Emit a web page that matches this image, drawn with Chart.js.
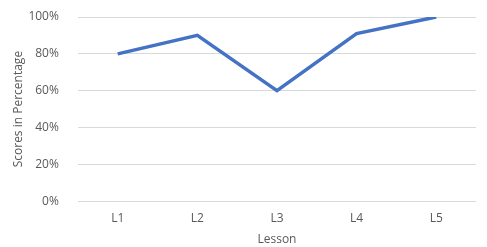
<!DOCTYPE html>
<html>
<head>
<meta charset="utf-8">
<script src="https://cdn.jsdelivr.net/npm/chart.js@4"></script>
<style>
  html, body { margin: 0; padding: 0; background: #fff; }
  #wrap { width: 487px; height: 247px; }
</style>
</head>
<body>
<div id="wrap"><canvas id="chart"></canvas></div>
<script>
// chart data
const lessons = ['L1', 'L2', 'L3', 'L4', 'L5'];
const scores = [80, 90, 60, 91, 100];
const yTicks = [0, 20, 40, 60, 80, 100];

const grey = '#595959';
const font = 'Open Sans';

new Chart(document.getElementById('chart'), {
  type: 'line',
  data: {
    labels: lessons,
    datasets: [{
      data: scores,
      borderColor: '#4472C4',
      borderWidth: 3.5,
      pointRadius: 0,
      tension: 0,
      fill: false
    }]
  },
  options: {
    responsive: true,
    maintainAspectRatio: false,
    animation: false,
    layout: { padding: { top: 17, right: 11, bottom: 0, left: 11 } },
    plugins: { legend: { display: false }, tooltip: { enabled: false } },
    scales: {
      x: {
        offset: true,
        grid: { display: false },
        border: { display: false },
        ticks: { color: grey, font: { family: font, size: 12 }, padding: 2 },
        title: { display: true, text: 'Lesson', color: grey, font: { family: font, size: 12 }, padding: { top: 5, bottom: 0 } }
      },
      y: {
        min: 0,
        max: 100,
        afterBuildTicks: (axis) => { axis.ticks = yTicks.map(v => ({ value: v })); },
        // tick padding would otherwise push the plot top down; also pull the plot left a bit
        afterFit: (axis) => { axis.paddingTop = 0; axis.width -= 5; },
        grid: { color: '#d9d9d9', lineWidth: 1, drawTicks: false },
        border: { display: false },
        ticks: { color: grey, font: { family: font, size: 12 }, padding: 19, callback: (v) => v + '%' },
        title: { display: true, text: 'Scores in Percentage', color: grey, font: { family: font, size: 12 }, padding: { top: 0, bottom: -11 } }
      }
    }
  }
});
</script>
</body>
</html>
